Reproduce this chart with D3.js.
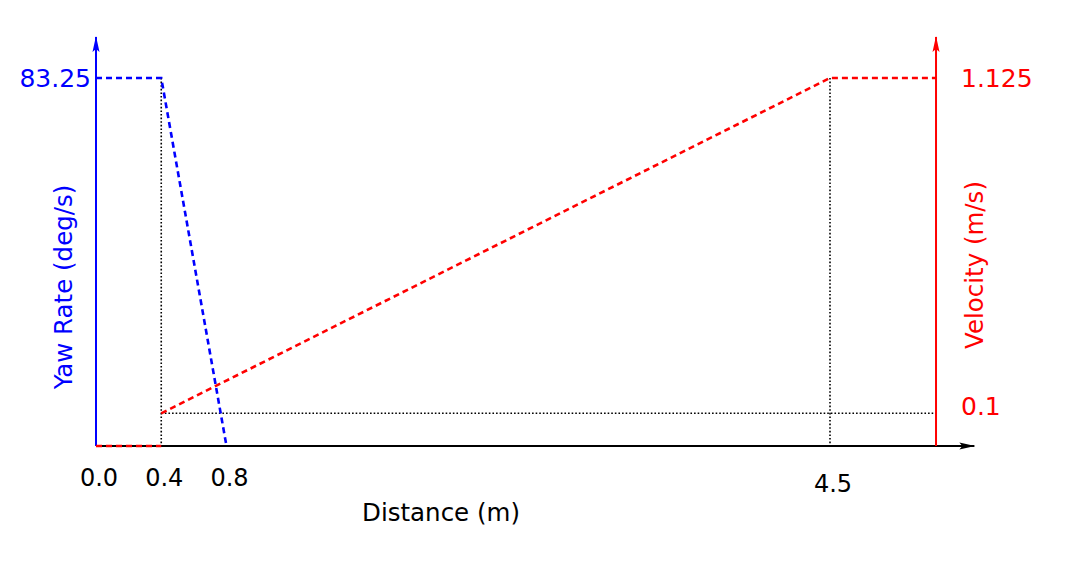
<!DOCTYPE html>
<html>
<head>
<meta charset="utf-8">
<script src="https://cdn.jsdelivr.net/npm/d3@7"></script>
<style>
  body { margin: 0; background: #fff; }
  text { font-family: "DejaVu Sans", sans-serif; }
</style>
</head>
<body>
<svg id="chart"></svg>
<script>
// Data
const yawPoints = [[0, 83.25], [0.4, 83.25], [0.8, 0]];
const velBase = [[0, 0], [0.4, 0]];
const velRamp = [[0.4, 0.1], [4.5, 1.125], [5.15, 1.125]];
const xTicks = [0.0, 0.4, 0.8, 4.5];
const yawTicks = [83.25];
const velTicks = [1.125, 0.1];
const xMaxAxis = 5.15;   // right (velocity) axis sits here
const xArrowEnd = 5.385;

const width = 1076, height = 571;
const svg = d3.select('#chart').attr('width', width).attr('height', height);

const x = d3.scaleLinear().domain([0, 4.5]).range([96, 830]);
const yYaw = d3.scaleLinear().domain([0, 83.25]).range([446, 78]);
const yVel = d3.scaleLinear().domain([0, 1.125]).range([446, 78]);
const arrowTop = 37;

const defs = svg.append('defs');
function marker(id, color) {
    defs.append('marker')
        .attr('id', id)
        .attr('viewBox', '0 0 16 8')
        .attr('refX', 15).attr('refY', 4)
        .attr('markerWidth', 16).attr('markerHeight', 8)
        .attr('markerUnits', 'userSpaceOnUse')
        .attr('orient', 'auto')
        .append('path')
        .attr('d', 'M0,0.5 L16,4 L0,7.5 L3,4 Z')
        .attr('fill', color);
}
marker('arrBlue', 'blue');
marker('arrRed', 'red');
marker('arrBlack', 'black');

const line = d3.line();

// dotted helper lines
const dotted = svg.append('g')
    .attr('stroke', 'black').attr('stroke-width', 1.6)
    .attr('stroke-dasharray', '1.6,2').attr('fill', 'none');
[0.4, 4.5].forEach(v => {
    dotted.append('line')
        .attr('x1', x(v)).attr('x2', x(v))
        .attr('y1', yYaw(83.25)).attr('y2', yYaw(0));
});
dotted.append('line')
    .attr('x1', x(0.4)).attr('x2', x(xMaxAxis))
    .attr('y1', yVel(0.1)).attr('y2', yVel(0.1));

// axes
svg.append('line')
    .attr('x1', x(0)).attr('x2', x(xArrowEnd))
    .attr('y1', yYaw(0)).attr('y2', yYaw(0))
    .attr('stroke', 'black').attr('stroke-width', 2)
    .attr('marker-end', 'url(#arrBlack)');
svg.append('line')
    .attr('x1', x(0)).attr('x2', x(0))
    .attr('y1', yYaw(0)).attr('y2', arrowTop)
    .attr('stroke', 'blue').attr('stroke-width', 2)
    .attr('marker-end', 'url(#arrBlue)');
svg.append('line')
    .attr('x1', x(xMaxAxis)).attr('x2', x(xMaxAxis))
    .attr('y1', yVel(0)).attr('y2', arrowTop)
    .attr('stroke', 'red').attr('stroke-width', 2)
    .attr('marker-end', 'url(#arrRed)');

// series
svg.append('path')
    .attr('d', line(yawPoints.map(d => [x(d[0]), yYaw(d[1])])))
    .attr('fill', 'none').attr('stroke', 'blue').attr('stroke-width', 2.6)
    .attr('stroke-dasharray', '6,4');
[velBase, velRamp].forEach(seg => {
    svg.append('path')
        .attr('d', line(seg.map(d => [x(d[0]), yVel(d[1])])))
        .attr('fill', 'none').attr('stroke', 'red').attr('stroke-width', 2.6)
        .attr('stroke-dasharray', '6,4');
});

// tick labels
svg.selectAll('.xtick')
    .data(xTicks)
    .join('text')
    .attr('class', 'xtick')
    .attr('x', d => x(d) + 3)
    .attr('y', d => d === 4.5 ? 492 : 486)
    .attr('text-anchor', 'middle')
    .attr('font-size', 24)
    .text(d => d.toFixed(1));

svg.selectAll('.yawtick')
    .data(yawTicks)
    .join('text')
    .attr('x', x(0) - 5)
    .attr('y', d => yYaw(d) + 9)
    .attr('text-anchor', 'end')
    .attr('font-size', 25)
    .attr('fill', 'blue')
    .text(d => d);

svg.selectAll('.veltick')
    .data(velTicks)
    .join('text')
    .attr('x', x(xMaxAxis) + 25)
    .attr('y', d => yVel(d) + (d === 0.1 ? 2 : 9))
    .attr('text-anchor', 'start')
    .attr('font-size', 25)
    .attr('fill', 'red')
    .text(d => d);

// axis titles
svg.append('text')
    .attr('x', 441).attr('y', 521)
    .attr('text-anchor', 'middle')
    .attr('font-size', 24.5)
    .text('Distance (m)');
svg.append('text')
    .attr('transform', 'translate(72,287) rotate(-90)')
    .attr('text-anchor', 'middle')
    .attr('font-size', 24.5)
    .attr('fill', 'blue')
    .text('Yaw Rate (deg/s)');
svg.append('text')
    .attr('transform', 'translate(983,265) rotate(-90)')
    .attr('text-anchor', 'middle')
    .attr('font-size', 24.5)
    .attr('fill', 'red')
    .text('Velocity (m/s)');
</script>
</body>
</html>
